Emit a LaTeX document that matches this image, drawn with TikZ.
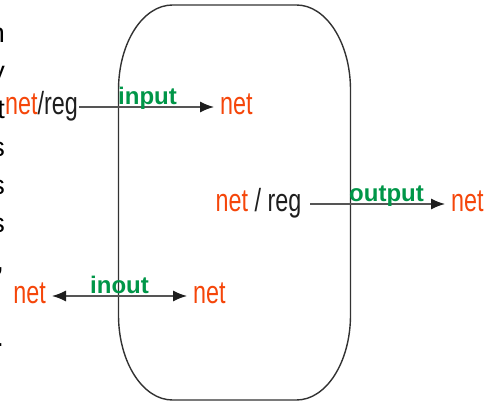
\documentclass[tikz,border=0pt]{standalone}
\usepackage{fontspec}
\setmainfont{Liberation Sans}
\newfontfamily\narrowfont{Liberation Sans}[FakeStretch=0.73]
\usetikzlibrary{arrows.meta}
\definecolor{netred}{RGB}{245,70,10}
\definecolor{portgreen}{RGB}{0,150,72}
\definecolor{wiregrey}{RGB}{85,85,85}
\definecolor{boxgrey}{RGB}{50,50,50}
\definecolor{inkblack}{RGB}{30,30,30}
\tikzset{>={Latex[length=14pt,width=11pt,color=inkblack]}}
\tikzset{
  sig/.style={inner sep=0pt,text=inkblack,text height=23pt,text depth=7pt,font=\narrowfont\fontsize{32}{36}\selectfont},
  lbl/.style={inner sep=0pt,text=portgreen,font=\bfseries\fontsize{24}{27}\selectfont},
  frag/.style={anchor=base east,inner sep=0pt,text=black,font=\fontsize{27}{30}\selectfont},
  wire/.style={draw=wiregrey,line width=1.3pt},
}

\begin{document}
\begin{tikzpicture}[x=1pt,y=-1pt]
\useasboundingbox (0,0) rectangle (490,403);
% module body
\draw[draw=boxgrey,line width=1.4pt] (172.5,5) -- (296.5,5)
  arc[start angle=90,end angle=0,x radius=54pt,y radius=85pt] -- (350.5,315)
  arc[start angle=0,end angle=-90,x radius=54pt,y radius=85pt] -- (172.5,400)
  arc[start angle=-90,end angle=-180,x radius=54pt,y radius=85pt] -- (118.5,90)
  arc[start angle=180,end angle=90,x radius=54pt,y radius=85pt] -- cycle;
% cut-off text at the left edge
\node[frag] (fragn) at (5,43) {n};
\node[frag] (fragy) at (5,81) {y};
\node[frag] (fragt) at (5,119) {t};
\node[frag] (fragsa) at (5,157) {s};
\node[frag] (fragsb) at (5,195) {s};
\node[frag] (fragsc) at (5,233) {s};
\node[frag] (fragc) at (4,271) {,};
\node[frag] (fragp) at (4,347) {.};
% input
\node[sig,anchor=east] (srcin) at (78,107) {\textcolor{netred}{net}/reg};
\node[sig,anchor=west,text=netred] (dstin) at (220,107) {net};
\path [wire,->] (srcin) edge[shorten <=1pt,shorten >=6pt] (dstin);
\node[lbl,anchor=base] (lblin) at (147.5,105) {input};
% output
\node[sig,anchor=east] (srcout) at (301.5,204) {\textcolor{netred}{net} / reg};
\node[sig,anchor=west,text=netred] (dstout) at (451,204) {net};
\path [wire,->] (srcout) edge[shorten <=8.5pt,shorten >=6pt] (dstout);
\node[lbl,anchor=base] (lblout) at (386.5,202) {output};
% inout
\node[sig,anchor=east,text=netred] (endl) at (46,296) {net};
\node[sig,anchor=west,text=netred] (endr) at (193,296) {net};
\path [wire,<->] (endl) edge[shorten <=6pt,shorten >=6pt] (endr);
\node[lbl,anchor=base] (lblio) at (119.5,294) {inout};
\end{tikzpicture}
\end{document}
